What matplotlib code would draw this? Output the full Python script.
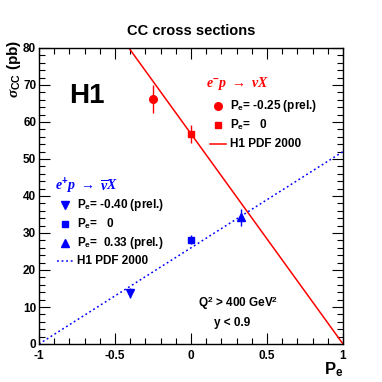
import matplotlib
matplotlib.use("Agg")
import matplotlib.pyplot as plt
import numpy as np
from matplotlib.ticker import MultipleLocator

plt.rcParams['font.family'] = ['Liberation Sans', 'DejaVu Sans']
plt.rcParams['font.weight'] = 'bold'
plt.rcParams['mathtext.fontset'] = 'custom'
plt.rcParams['mathtext.rm'] = 'Liberation Sans:bold'
plt.rcParams['mathtext.bf'] = 'Liberation Sans:bold'
plt.rcParams['mathtext.it'] = 'Liberation Serif:italic'

# e- p data
em_pol = [-0.25, 0.0]
em_xs = [66.2, 56.8]
em_err = [3.9, 2.4]
# e+ p data
ep_pol = [-0.40, 0.0, 0.33]
ep_xs = [13.8, 28.2, 34.2]
ep_err = [1.4, 1.2, 2.4]
# H1 PDF 2000 predictions (linear in Pe)
pdf_pe = [-1.0, 1.0]
pdf_em = [113.6, 0.0]
pdf_ep = [0.0, 52.0]

red = '#ff0000'
blue = '#0000ff'

fig = plt.figure(figsize=(3.82, 3.82), dpi=100)
W = H = 382.0
ax = fig.add_axes([39/W, 1-344/H, (343-39)/W, (344-48)/H])

ax.plot(pdf_pe, pdf_em, color=red, lw=1.1)
ax.plot(pdf_pe, pdf_ep, color=blue, lw=1.1, ls=(0, (1.2, 1.8)))

ax.errorbar(em_pol[0], em_xs[0], yerr=em_err[0], fmt='o', color=red, ms=5.5, elinewidth=1, capsize=0)
ax.errorbar(em_pol[1], em_xs[1], yerr=em_err[1], fmt='s', color=red, ms=5, elinewidth=1, capsize=0)
ax.errorbar(ep_pol[0], ep_xs[0], yerr=ep_err[0], fmt='v', color=blue, ms=5.5, elinewidth=1, capsize=0)
ax.errorbar(ep_pol[1], ep_xs[1], yerr=ep_err[1], fmt='s', color=blue, ms=4.5, elinewidth=1, capsize=0)
ax.errorbar(ep_pol[2], ep_xs[2], yerr=ep_err[2], fmt='^', color=blue, ms=5.5, elinewidth=1, capsize=0)

ax.set_xlim(-1, 1)
ax.set_ylim(0, 80)
ax.xaxis.set_major_locator(MultipleLocator(0.5))
ax.xaxis.set_minor_locator(MultipleLocator(0.1))
ax.yaxis.set_major_locator(MultipleLocator(10))
ax.yaxis.set_minor_locator(MultipleLocator(2))
ax.tick_params(which='both', direction='in', top=True, right=True, labelsize=8.5, width=0.8)
ax.tick_params(which='major', length=8)
ax.tick_params(which='minor', length=4)
ax.set_xticks([-1, -0.5, 0, 0.5, 1])
ax.set_xticklabels(['-1', '-0.5', '0', '0.5', '1'], fontweight='bold')
for lab in ax.get_yticklabels():
    lab.set_fontweight('bold')
ax.tick_params(axis='x', pad=4.5)
ax.tick_params(axis='y', pad=2)
for s in ax.spines.values():
    s.set_linewidth(1.0)

def px(x, y):
    return x / W, 1 - y / H

fig.text(*px(191, 31), 'CC cross sections', ha='center', va='center', fontsize=10.5, fontweight='bold')
fig.text(*px(14, 69), r'$\sigma_{\rm CC}$ (pb)', rotation=90, ha='center', va='center', fontsize=11)
fig.text(*px(334, 370), r'P$_{\rm e}$', ha='center', va='center', fontsize=12)
fig.text(*px(87, 96), 'H1', ha='center', va='center', fontsize=20, fontweight='bold')

# e- legend
fig.text(*px(206, 83), r'$e^{-}p\ \rightarrow\ \nu X$', color=red, ha='left', va='center', fontsize=10)
fig.lines.append(plt.Line2D([218/W], [1-106/H], marker='o', color=red, ms=5.5, transform=fig.transFigure))
fig.lines.append(plt.Line2D([218/W], [1-125/H], marker='s', color=red, ms=4.5, transform=fig.transFigure))
fig.lines.append(plt.Line2D([210/W, 226/W], [1-144/H, 1-144/H], color=red, lw=1.1, transform=fig.transFigure))
fig.text(*px(230, 106), r'P$_{\rm e}$= -0.25 (prel.)', ha='left', va='center', fontsize=8.5)
fig.text(*px(230, 125), r'P$_{\rm e}$=   0', ha='left', va='center', fontsize=8.5)
fig.text(*px(230, 144), 'H1 PDF 2000', ha='left', va='center', fontsize=8.5)

# e+ legend
fig.text(*px(55, 186), r'$e^{+}p\ \rightarrow\ \overline{\nu}X$', color=blue, ha='left', va='center', fontsize=10)
fig.lines.append(plt.Line2D([65/W], [1-205/H], marker='v', color=blue, ms=5.5, transform=fig.transFigure))
fig.lines.append(plt.Line2D([65/W], [1-224/H], marker='s', color=blue, ms=4.5, transform=fig.transFigure))
fig.lines.append(plt.Line2D([65/W], [1-243/H], marker='^', color=blue, ms=5.5, transform=fig.transFigure))
fig.lines.append(plt.Line2D([57/W, 73/W], [1-261/H, 1-261/H], color=blue, lw=1.1, ls=(0, (1.2, 1.8)), transform=fig.transFigure))
fig.text(*px(77, 205), r'P$_{\rm e}$= -0.40 (prel.)', ha='left', va='center', fontsize=8.5)
fig.text(*px(77, 224), r'P$_{\rm e}$=   0', ha='left', va='center', fontsize=8.5)
fig.text(*px(77, 243), r'P$_{\rm e}$=  0.33 (prel.)', ha='left', va='center', fontsize=8.5)
fig.text(*px(77, 261), 'H1 PDF 2000', ha='left', va='center', fontsize=8.5)

fig.text(*px(238, 303), r'Q$^{\rm 2}$ > 400 GeV$^{\rm 2}$', ha='center', va='center', fontsize=8.5)
fig.text(*px(232, 323), 'y < 0.9', ha='center', va='center', fontsize=8.5)

fig.savefig('out.png', dpi=100, facecolor='white')
